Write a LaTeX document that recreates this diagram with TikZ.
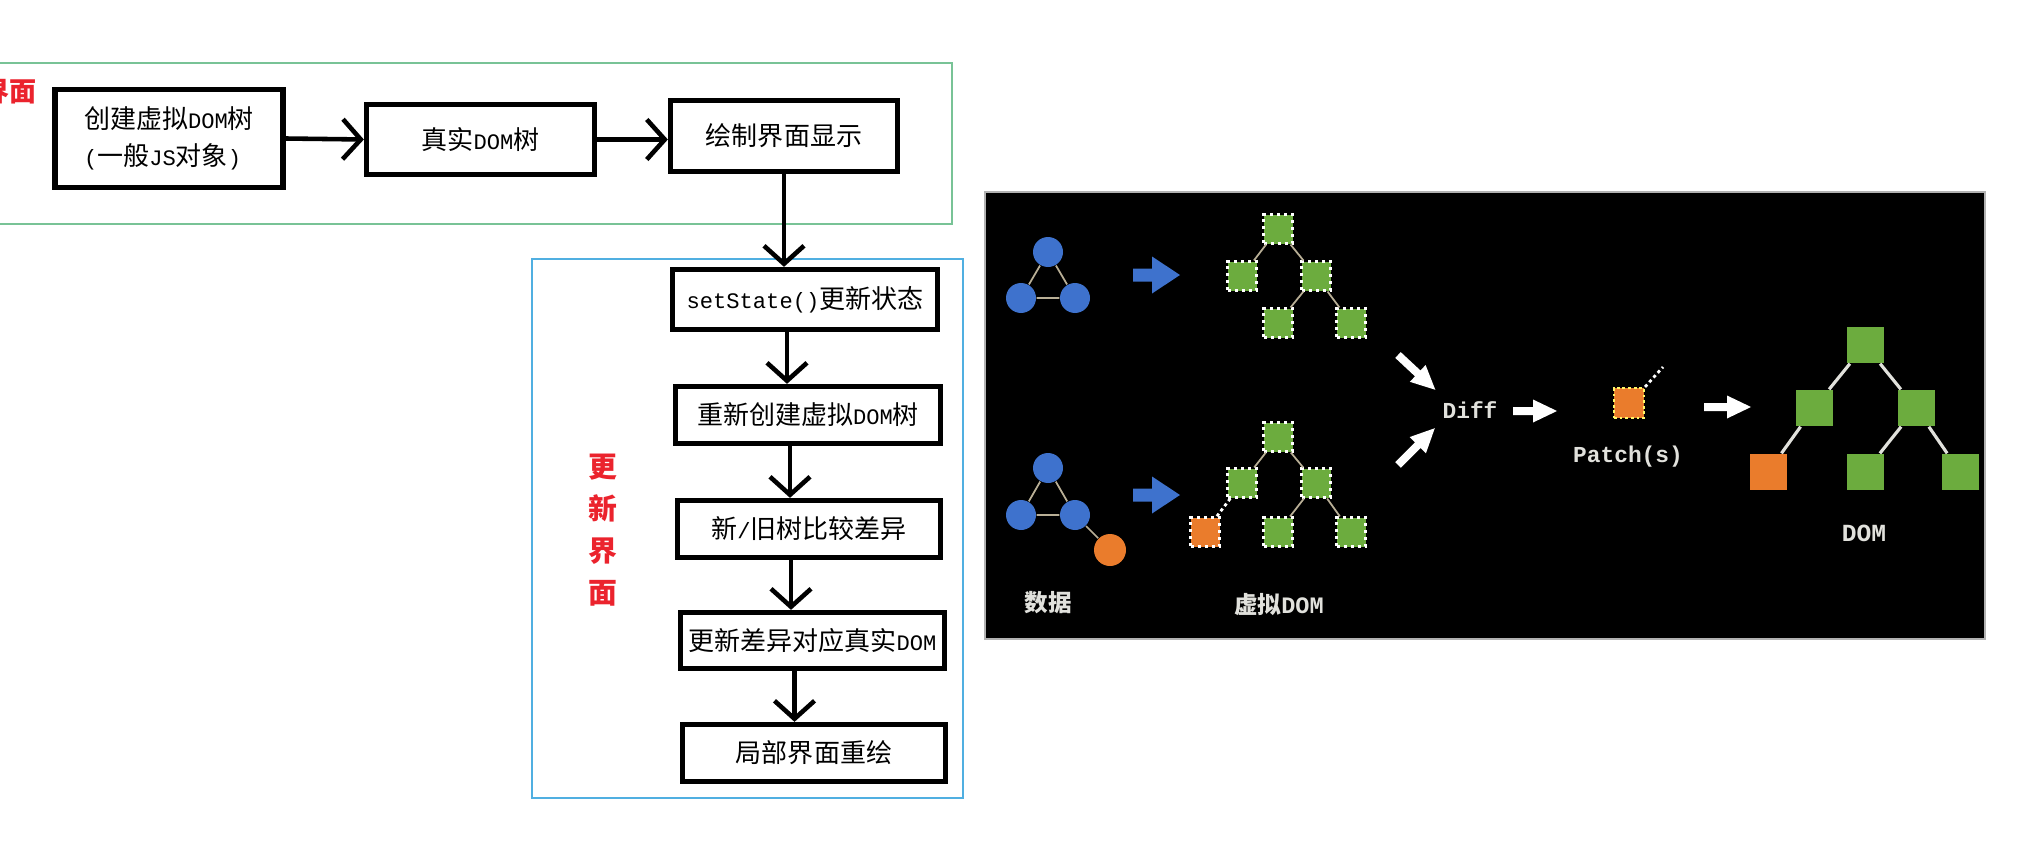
\documentclass[tikz,border=0pt]{standalone}
\usepackage{fontspec}
\setmainfont{Noto Sans CJK SC}
\setmonofont{Liberation Mono}
\newfontfamily\hw{Liberation Mono}[Scale=0.85]
\usetikzlibrary{arrows.meta}

\definecolor{framegreen}{RGB}{120,195,150}
\definecolor{frameblue}{RGB}{80,175,225}
\definecolor{markred}{RGB}{235,35,45}
\definecolor{datablue}{RGB}{62,114,205}
\definecolor{leafgreen}{RGB}{108,172,62}
\definecolor{patchorange}{RGB}{234,124,44}
\definecolor{twiggray}{RGB}{185,175,150}
\definecolor{inkgray}{RGB}{225,225,220}

\begin{document}
\begin{tikzpicture}[>=Stealth,
  stepbox/.style={draw, line width=1.5pt, inner sep=0pt, font=\fontsize{7.4}{10.5}\selectfont},
  flow/.style={line width=1.3pt, -{Straight Barb[length=0.18cm, width=0.40cm]}},
  datum/.style={circle, fill=datablue, minimum size=0.30cm, inner sep=0pt},
  vnode/.style={rectangle, fill=leafgreen, draw=white, line width=0.6pt,
                dash pattern=on 1pt off 1pt, minimum size=0.29cm, inner sep=0pt},
  dnode/.style={rectangle, fill=leafgreen, minimum width=0.37cm,
                minimum height=0.36cm, inner sep=0pt},
  twig/.style={twiggray, line width=0.5pt},
  branch/.style={inkgray, line width=0.9pt},
  paneltext/.style={text=inkgray, font=\ttfamily\bfseries\fontsize{6.5}{8}\selectfont}]
  \useasboundingbox (0,0) rectangle (20.28,8.42);
  \clip (0,0) rectangle (20.28,8.42);
  \fill[white] (0,0) rectangle (20.28,8.42);

  % First render
  \draw[framegreen, line width=0.6pt] (-0.1,7.79) -| (9.52,6.18) -- (-0.1,6.18);
  \node[text=markred, font=\bfseries\fontsize{7.7}{9}\selectfont,
        anchor=east, inner sep=0pt] (uitag) at (0.37,7.50) {界面};
  \node[stepbox, minimum width=2.28cm, minimum height=0.98cm,
        align=left] (b1) at (1.69,7.035)
        {创建虚拟{\hw DOM}树\\{\hw(}一般{\hw JS}对象{\hw)}};
  \node[stepbox, minimum width=2.28cm, minimum height=0.70cm] (b2) at (4.805,7.025) {真实{\hw DOM}树};
  \node[stepbox, minimum width=2.27cm, minimum height=0.71cm] (b3) at (7.84,7.06) {绘制界面显示};
  \draw[flow] (b1.east) -- (b2.west);
  \draw[flow] (b2.east) -- (b2.east -| b3.west);

  % Update cycle
  \draw[frameblue, line width=0.6pt] (5.32,0.44) rectangle (9.63,5.83);
  \node[text=markred, font=\bfseries\fontsize{8.2}{11.9}\selectfont,
        align=center] (updtag) at (6.03,3.12) {更\\新\\界\\面};
  \node[stepbox, minimum width=2.65cm, minimum height=0.60cm] (s1) at (8.05,5.425) {{\hw setState()}更新状态};
  \node[stepbox, minimum width=2.65cm, minimum height=0.57cm] (s2) at (8.08,4.27) {重新创建虚拟{\hw DOM}树};
  \node[stepbox, minimum width=2.63cm, minimum height=0.57cm] (s3) at (8.09,3.13) {新{\hw /}旧树比较差异};
  \node[stepbox, minimum width=2.64cm, minimum height=0.56cm] (s4) at (8.125,2.015) {更新差异对应真实{\hw DOM}};
  \node[stepbox, minimum width=2.63cm, minimum height=0.57cm] (s5) at (8.14,0.89) {局部界面重绘};
  \draw[flow] (b3.south) -- (b3.south |- s1.north);
  \foreach \a/\b in {s1/s2, s2/s3, s3/s4, s4/s5} {
    \coordinate (drop) at ([xshift=-0.18cm]\a.south);
    \draw[flow] (drop) -- (drop |- \b.north);
  }

  % Dark panel
  \draw[gray!60, fill=black, line width=0.4pt] (9.85,2.03) rectangle (19.85,6.50);

  % Data
  \node[datum] (d1) at (10.48,5.90) {};
  \node[datum] (d2) at (10.21,5.44) {};
  \node[datum] (d3) at (10.75,5.44) {};
  \draw[twig] (d1) -- (d2) (d1) -- (d3) (d2) -- (d3);
  \node[datum] (e1) at (10.48,3.74) {};
  \node[datum] (e2) at (10.21,3.27) {};
  \node[datum] (e3) at (10.75,3.27) {};
  \node[datum, fill=patchorange, minimum size=0.32cm] (e4) at (11.10,2.92) {};
  \draw[twig] (e1) -- (e2) (e1) -- (e3) (e2) -- (e3) (e3) -- (e4);
  \foreach \y in {5.67,3.47}
    \fill[datablue] (11.33,\y-0.065) -- (11.52,\y-0.065) -- (11.52,\y-0.185)
      -- (11.80,\y) -- (11.52,\y+0.185) -- (11.52,\y+0.065) -- (11.33,\y+0.065) -- cycle;

  % Virtual DOM, old and new
  \node[vnode] (va0) at (12.78,6.13) {};
  \node[vnode] (va1) at (12.42,5.66) {};
  \node[vnode] (va2) at (13.16,5.66) {};
  \node[vnode] (va3) at (12.78,5.19) {};
  \node[vnode] (va4) at (13.51,5.19) {};
  \draw[twig] (va0) -- (va1) (va0) -- (va2) (va2) -- (va3) (va2) -- (va4);
  \node[vnode] (vb0) at (12.78,4.05) {};
  \node[vnode] (vb1) at (12.42,3.59) {};
  \node[vnode] (vb2) at (13.16,3.59) {};
  \node[vnode, fill=patchorange] (vb3) at (12.05,3.10) {};
  \node[vnode] (vb4) at (12.78,3.10) {};
  \node[vnode] (vb5) at (13.51,3.10) {};
  \draw[twig] (vb0) -- (vb1) (vb0) -- (vb2) (vb2) -- (vb4) (vb2) -- (vb5);
  \draw[white, line width=0.8pt, dash pattern=on 0.9pt off 0.9pt] (vb1) -- (vb3);

  % Diff and patch
  \foreach \x/\y/\a/\len in {13.98/4.87/-43/0.51, 13.98/3.77/45/0.52,
                              15.13/4.31/0/0.44, 17.04/4.35/0/0.47}
    \fill[white, shift={(\x,\y)}, rotate=\a] (0,-0.04) -- ({\len-0.24},-0.04)
      -- ({\len-0.24},-0.115) -- (\len,0) -- ({\len-0.24},0.115)
      -- ({\len-0.24},0.04) -- (0,0.04) -- cycle;
  \node[paneltext] (diff) at (14.70,4.32) {Diff};
  \node[vnode, fill=patchorange, draw=yellow!60, dash pattern=on 0.8pt off 0.8pt,
        minimum size=0.30cm] (patch) at (16.29,4.39) {};
  \coordinate (patchtail) at (16.63,4.75);
  \draw[white, line width=0.8pt, dash pattern=on 0.9pt off 0.9pt] (patch.north east) -- (patchtail);
  \node[paneltext] (patchlbl) at (16.28,3.85) {Patch(s)};

  % Real DOM
  \node[dnode] (dm0) at (18.65,4.97) {};
  \node[dnode] (dm1) at (18.14,4.34) {};
  \node[dnode] (dm2) at (19.16,4.34) {};
  \node[dnode, fill=patchorange] (dm3) at (17.68,3.70) {};
  \node[dnode] (dm4) at (18.65,3.70) {};
  \node[dnode] (dm5) at (19.60,3.70) {};
  \draw[branch] (dm0) -- (dm1) (dm0) -- (dm2) (dm1) -- (dm3) (dm2) -- (dm4) (dm2) -- (dm5);

  % Captions
  \node[text=inkgray, font=\bfseries\fontsize{6.7}{8}\selectfont] (datalbl) at (10.48,2.39) {数据};
  \node[text=inkgray, font=\bfseries\fontsize{6.7}{8}\selectfont] (vdomlbl) at (12.79,2.37) {虚拟{\ttfamily DOM}};
  \node[paneltext, font=\ttfamily\bfseries\fontsize{7}{8}\selectfont] (domlbl) at (18.64,3.09) {DOM};
\end{tikzpicture}
\end{document}
